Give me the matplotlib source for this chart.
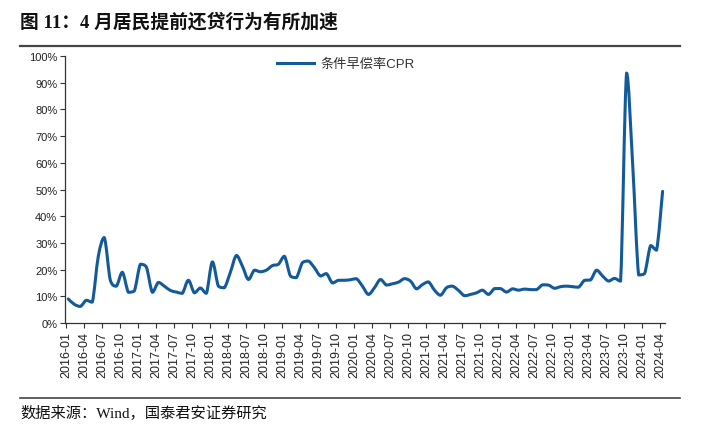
import matplotlib
matplotlib.use('Agg')
import matplotlib.pyplot as plt
from matplotlib.lines import Line2D
from matplotlib.path import Path
from matplotlib.patches import PathPatch
import pandas as pd

plt.rcParams['font.family'] = ['Liberation Sans', 'Noto Sans CJK SC']

# monthly CPR, 2016-01 .. 2024-04 (%)
months = [str(p) for p in pd.period_range('2016-01', '2024-04', freq='M')]
cpr_2016 = [9.0, 7.0, 6.2, 8.5, 7.8, 25.0, 32.0, 16.0, 13.8, 19.0, 11.5, 12.0]
cpr_2017 = [22.0, 21.0, 11.5, 15.2, 13.8, 12.2, 11.6, 11.1, 16.0, 11.3, 13.1, 11.1]
cpr_2018 = [22.9, 13.8, 13.2, 19.0, 25.3, 21.3, 16.3, 19.8, 19.2, 19.8, 21.5, 22.0]
cpr_2019 = [25.0, 17.6, 17.0, 22.6, 23.2, 20.7, 17.6, 18.5, 15.0, 16.0, 16.0, 16.2]
cpr_2020 = [16.6, 13.8, 10.7, 13.2, 16.3, 14.2, 14.7, 15.3, 16.6, 15.7, 12.8, 14.4]
cpr_2021 = [15.4, 12.3, 10.4, 13.2, 13.8, 12.2, 10.2, 10.7, 11.3, 12.3, 10.7, 12.9]
cpr_2022 = [12.9, 11.6, 12.8, 12.3, 12.7, 12.5, 12.5, 14.3, 14.2, 13.0, 13.6, 13.8]
cpr_2023 = [13.6, 13.4, 16.0, 16.1, 19.8, 17.6, 15.7, 16.7, 15.7, 93.6, 60.0, 18.0]
cpr_2024 = [18.5, 29.0, 27.3, 49.3]
cpr = cpr_2016 + cpr_2017 + cpr_2018 + cpr_2019 + cpr_2020 + cpr_2021 + cpr_2022 + cpr_2023 + cpr_2024

title = '图 11：4 月居民提前还贷行为有所加速'
source = '数据来源：Wind，国泰君安证券研究'
series_name = '条件早偿率CPR'
line_color = '#135A9A'

fig = plt.figure(figsize=(7.02, 4.39), dpi=100)
ax = fig.add_axes([65 / 702, 1 - 324 / 439, 600 / 702, 267 / 439])

xs = [i + 0.4 for i in range(len(cpr))]


def clamp(v, a, b):
    return max(min(a, b), min(max(a, b), v))


# smoothed line (like excel's smooth line), bezier through each point,
# control points kept inside each segment so it does not overshoot
verts = [(xs[0], cpr[0])]
codes = [Path.MOVETO]
n = len(cpr)
for i in range(n - 1):
    p0 = (xs[max(i - 1, 0)], cpr[max(i - 1, 0)])
    p1 = (xs[i], cpr[i])
    p2 = (xs[i + 1], cpr[i + 1])
    p3 = (xs[min(i + 2, n - 1)], cpr[min(i + 2, n - 1)])
    c1 = (p1[0] + (p2[0] - p0[0]) / 6, clamp(p1[1] + (p2[1] - p0[1]) / 6, p1[1], p2[1]))
    c2 = (p2[0] - (p3[0] - p1[0]) / 6, clamp(p2[1] - (p3[1] - p1[1]) / 6, p1[1], p2[1]))
    verts += [c1, c2, p2]
    codes += [Path.CURVE4] * 3
ax.add_patch(PathPatch(Path(verts, codes), fill=False, edgecolor=line_color,
                       linewidth=2.2, joinstyle='round', capstyle='round'))
ax.plot([], [], color=line_color, linewidth=2.2, label=series_name)

ax.set_ylim(0, 100)
ax.set_xlim(-0.15, len(cpr) - 0.2)
ax.set_yticks(range(0, 101, 10))
ax.set_yticklabels([f'{v}%' for v in range(0, 101, 10)], fontsize=8, color='#222')
tick_idx = list(range(0, len(months), 3))
ax.set_xticks(tick_idx)
ax.set_xticklabels([months[i] for i in tick_idx], rotation=90, fontsize=9, color='#222')
ax.tick_params(direction='out', length=3.5, width=0.8, color='#333', pad=2)
for s in ['top', 'right']:
    ax.spines[s].set_visible(False)
for s in ['left', 'bottom']:
    ax.spines[s].set_color('#333')
    ax.spines[s].set_linewidth(0.9)

leg = ax.legend(loc='center', bbox_to_anchor=(0.468, 0.97), frameon=False,
                handlelength=2.8, fontsize=9.5, borderpad=0, handletextpad=0.5)
for t in leg.get_texts():
    t.set_color('#333')

# title, rules and source
fig.text(20 / 702, 1 - 22 / 439, title, fontsize=13.5, fontweight='bold', va='center',
         family=['Liberation Serif', 'Noto Sans CJK SC'], color='#111')
fig.add_artist(Line2D([20 / 702, 680 / 702], [1 - 47 / 439] * 2, color='#444', lw=1.6))
fig.add_artist(Line2D([20 / 702, 680 / 702], [1 - 399 / 439] * 2, color='#444', lw=1.2))
fig.text(20 / 702, 1 - 413 / 439, source, fontsize=11, va='center',
         family=['Liberation Serif', 'Noto Sans CJK SC'], color='#111')

fig.savefig('out.png', dpi=100)
